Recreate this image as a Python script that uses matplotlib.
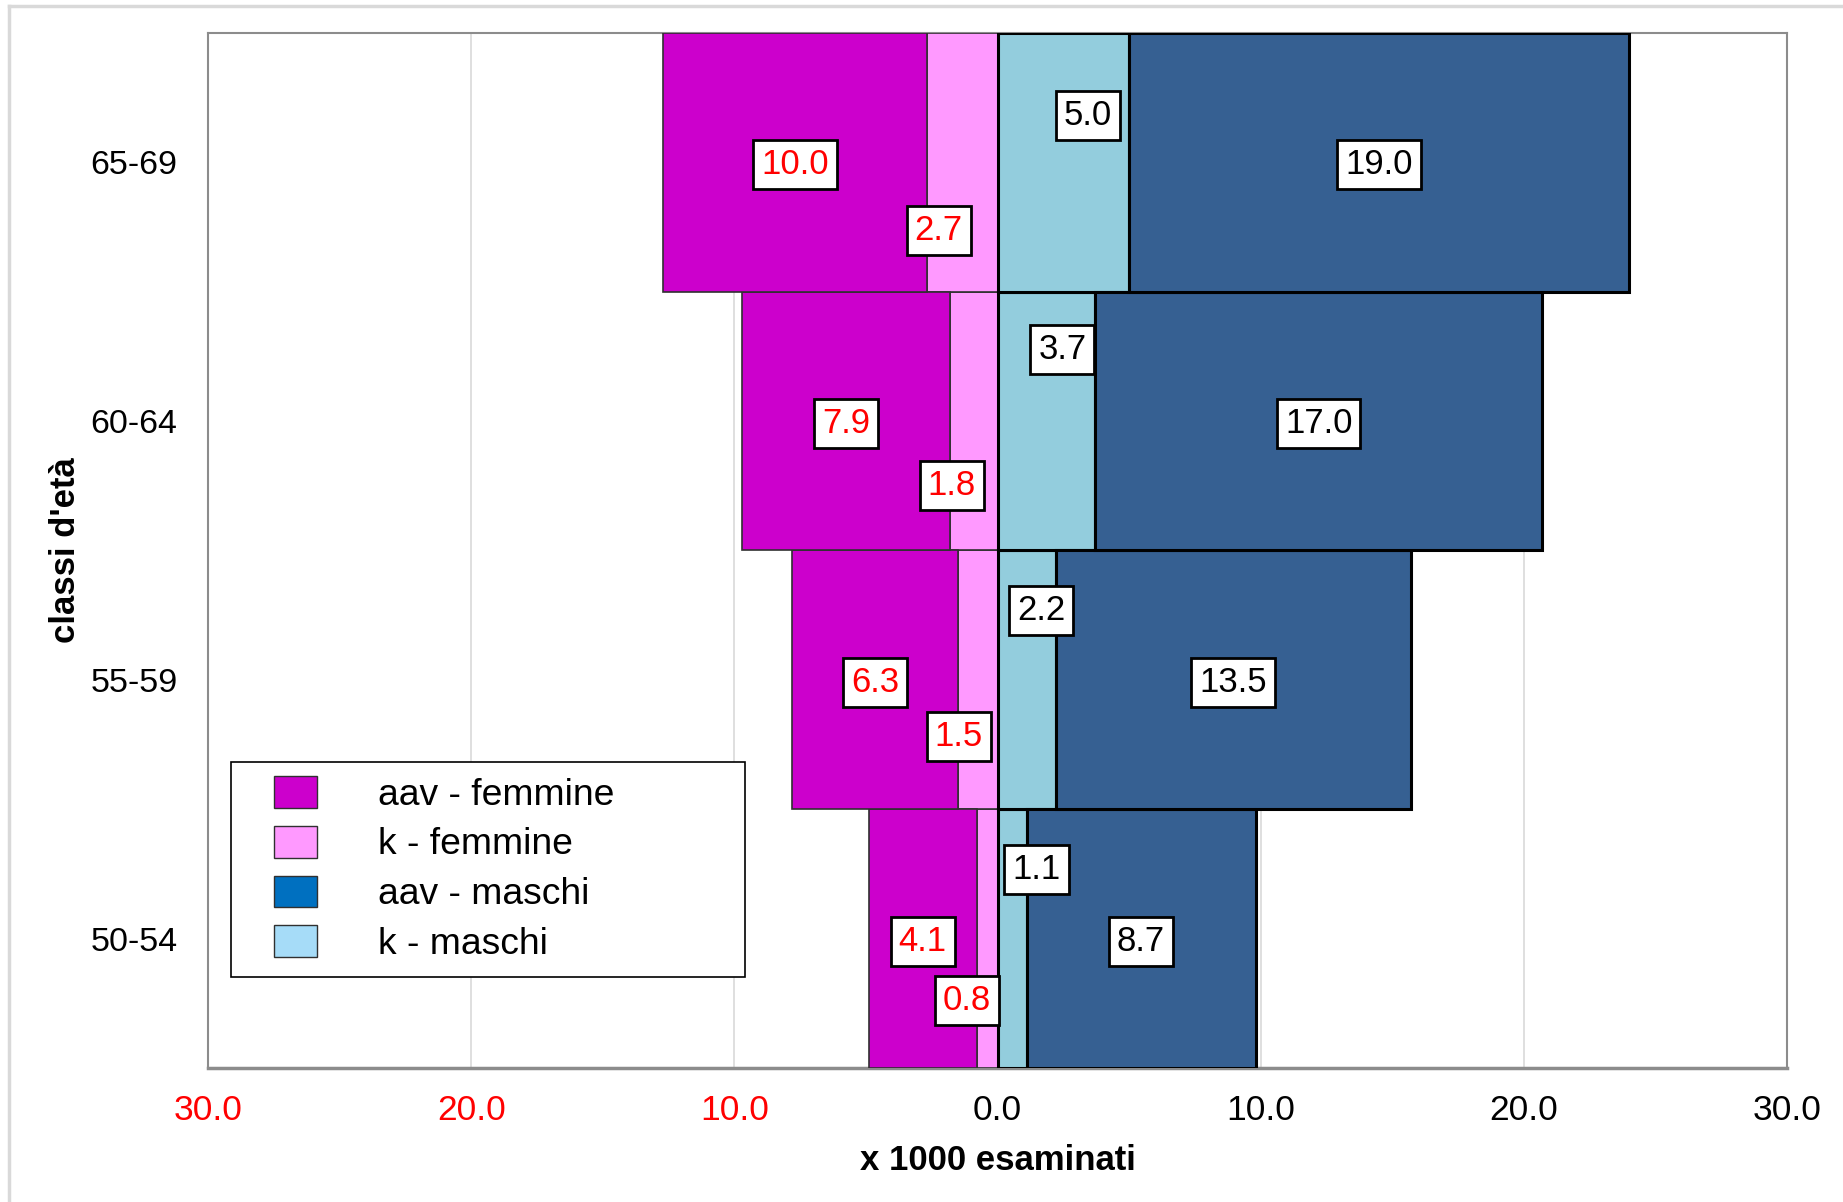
import matplotlib
matplotlib.use("Agg")
import matplotlib.pyplot as plt
from matplotlib.patches import Patch, Rectangle
from matplotlib.legend_handler import HandlerPatch
from matplotlib.lines import Line2D
import numpy as np

plt.rcParams['font.family'] = ['Liberation Sans', 'DejaVu Sans']

# Age classes, bottom to top
classi = ['50-54', '55-59', '60-64', '65-69']
# Rates per 1000 examined
aav_femmine = [4.1, 6.3, 7.9, 10.0]
k_femmine = [0.8, 1.5, 1.8, 2.7]
k_maschi = [1.1, 2.2, 3.7, 5.0]
aav_maschi = [8.7, 13.5, 17.0, 19.0]

x_ticks = [-30, -20, -10, 0, 10, 20, 30]

# Label placement tweaks for the small "k" segments (data units / category units)
k_f_dx = [-0.76, -0.73, -0.84, -0.89]
k_f_dy = [-0.23, -0.21, -0.24, -0.255]
k_m_dx = [0.93, 0.55, 0.61, 0.94]
k_m_dy = [0.277, 0.277, 0.286, 0.19]

C_AAV_F = '#CC00CC'
C_K_F = '#FF99FF'
C_K_M = '#93CDDD'
C_AAV_M = '#366092'

fig = plt.figure(figsize=(18.43, 12.02), dpi=100)
ax = fig.add_axes([0.1129, 0.1115, 0.8568, 0.8611])

y = np.arange(len(classi))
kf = np.array(k_femmine)
af = np.array(aav_femmine)
km = np.array(k_maschi)
am = np.array(aav_maschi)

ax.barh(y, -kf, height=1.0, color=C_K_F, edgecolor='#303030', linewidth=1.2, zorder=3)
ax.barh(y, -af, left=-kf, height=1.0, color=C_AAV_F, edgecolor='#303030', linewidth=1.2, zorder=3)
ax.barh(y, km, height=1.0, color=C_K_M, edgecolor='black', linewidth=2.2, zorder=3)
ax.barh(y, am, left=km, height=1.0, color=C_AAV_M, edgecolor='black', linewidth=2.2, zorder=3)

box = dict(boxstyle='square,pad=0.23', facecolor='white', edgecolor='black', linewidth=2)
fs_lab = 25
for i in range(len(classi)):
    ax.text(-(kf[i] + af[i] / 2), y[i] - 0.01, f'{af[i]:.1f}', color='#FF0000', fontsize=fs_lab,
            ha='center', va='center', bbox=box, zorder=5)
    ax.text(-kf[i] / 2 + k_f_dx[i], y[i] + k_f_dy[i] - 0.01, f'{kf[i]:.1f}', color='#FF0000',
            fontsize=fs_lab, ha='center', va='center', bbox=box, zorder=5)
    ax.text(km[i] + am[i] / 2, y[i] - 0.01, f'{am[i]:.1f}', color='black', fontsize=fs_lab,
            ha='center', va='center', bbox=box, zorder=5)
    ax.text(km[i] / 2 + k_m_dx[i], y[i] + k_m_dy[i] - 0.01, f'{km[i]:.1f}', color='black',
            fontsize=fs_lab, ha='center', va='center', bbox=box, zorder=5)

ax.set_xlim(-30, 30)
ax.set_ylim(-0.5, len(classi) - 0.5)
ax.set_xticks(x_ticks)
ax.set_xticklabels([f'{abs(v):.1f}' for v in x_ticks], fontsize=25.5)
for lab, v in zip(ax.get_xticklabels(), x_ticks):
    lab.set_color('#FF0000' if v < 0 else 'black')
ax.set_yticks(y)
ax.set_yticklabels(classi, fontsize=24.5)
ax.tick_params(axis='x', length=0, pad=19)
ax.tick_params(axis='y', length=0, pad=22)

ax.grid(axis='x', color='#D9D9D9', linewidth=1.2, zorder=0)
ax.set_axisbelow(True)
for s in ax.spines.values():
    s.set_color('#8C8C8C')
    s.set_linewidth(1.5)
ax.spines['bottom'].set_linewidth(2.5)

ax.set_xlabel('x 1000 esaminati', fontsize=25, fontweight='bold', labelpad=12)
ax.set_ylabel("classi d'età", fontsize=25, fontweight='bold', labelpad=6)


class OffsetSwatch(HandlerPatch):
    """Legend swatch drawn with a left inset and fixed size (points)."""

    def __init__(self, inset, w, h):
        super().__init__()
        self.inset, self.w, self.h = inset, w, h

    def create_artists(self, legend, orig_handle, xdescent, ydescent, width, height,
                       fontsize, trans):
        y0 = -ydescent + (height - self.h) / 2
        p = Rectangle((-xdescent + self.inset, y0), self.w, self.h,
                      facecolor=orig_handle.get_facecolor(),
                      edgecolor=orig_handle.get_edgecolor(),
                      linewidth=orig_handle.get_linewidth(), transform=trans)
        return [p]


handles = [Patch(facecolor=C_AAV_F, edgecolor='#303030', linewidth=1),
           Patch(facecolor=C_K_F, edgecolor='#303030', linewidth=1),
           Patch(facecolor='#0070C0', edgecolor='#303030', linewidth=1),
           Patch(facecolor='#A6DCF8', edgecolor='#303030', linewidth=1)]
labels = ['aav - femmine', 'k - femmine', 'aav - maschi', 'k - maschi']
sw = OffsetSwatch(inset=20, w=31, h=23)
leg = ax.legend(handles, labels, loc='upper left',
                bbox_to_anchor=(231 / 1843, 1 - 762 / 1202, 514 / 1843, 0),
                bbox_transform=fig.transFigure, mode='expand',
                handler_map={Patch: sw},
                fontsize=26.8, frameon=True, fancybox=False, framealpha=1,
                edgecolor='black', handlelength=2.76, handleheight=0.85,
                handletextpad=0.8, labelspacing=0.38, borderpad=0.4,
                borderaxespad=0)
leg.get_frame().set_linewidth(1.2)
leg.set_zorder(6)

# Outer border of the chart area
fig.add_artist(Line2D([9 / 1843, 9 / 1843], [0, 1 - 6 / 1202], transform=fig.transFigure,
                      color='#D9D9D9', linewidth=2.5))
fig.add_artist(Line2D([9 / 1843, 1], [1 - 6 / 1202, 1 - 6 / 1202], transform=fig.transFigure,
                      color='#D9D9D9', linewidth=2.5))

fig.savefig('out.png', dpi=100)
